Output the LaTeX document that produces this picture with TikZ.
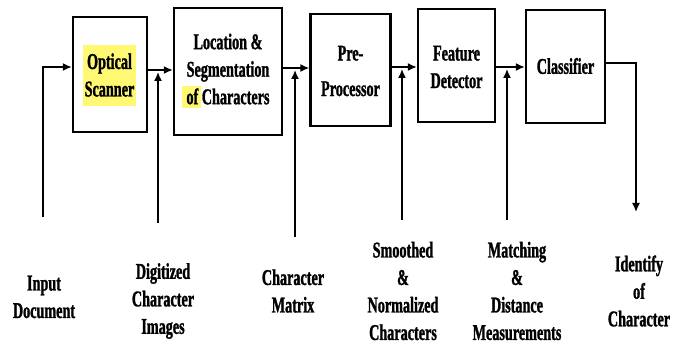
\documentclass[tikz,border=0pt]{standalone}
\usepackage{fontspec}
\setmainfont{Liberation Serif}[FakeStretch=0.63,BoldFeatures={FakeBold=1.2}]
\usetikzlibrary{arrows.meta}
\begin{document}
\begin{tikzpicture}[x=1pt,y=-1pt,
  box/.style={draw, line width=2.4pt, minimum width=#1, inner sep=0pt},
  txt/.style={align=center, font=\fontsize{22.5}{27.5}\selectfont\bfseries, inner sep=0pt},
  conn/.style={line width=1.5pt, -{Latex[length=9pt,width=8pt]}},
  hl/.style={fill=yellow!55, draw=none}]
\useasboundingbox (0,0) rectangle (685,347);
% boxes
\node[box=74pt, minimum height=115pt] (scan) at (110,74.5) {};
\node[box=108pt, minimum height=127pt] (loc) at (228,71.5) {};
\node[box=80pt, minimum height=112pt] (pre) at (350.5,70) {};
\node[box=77pt, minimum height=113pt] (feat) at (456.5,65.5) {};
\node[box=79pt, minimum height=113pt] (cls) at (565.5,66.5) {};
% highlights
\fill[hl] (83,45) rectangle (136,106);
\fill[hl] (182,86) rectangle (201,108);
% box texts
\node[txt] (tscan) at (109.5,75) {Optical\\Scanner};
\node[txt] (tloc) at (228,69) {Location \&\\Segmentation\\of Characters};
\node[txt] (tpre) at (350.5,71) {Pre-\\[8pt]Processor};
\node[txt] (tfeat) at (456.5,67) {Feature\\Detector};
\node[txt] (tcls) at (565.5,66) {Classifier};
% labels
\node[txt] (l1) at (44,297) {Input\\Document};
\node[txt] (l2) at (163,301) {Digitized\\Character\\Images};
\node[txt] (l3) at (293,291) {Character\\Matrix};
\node[txt] (l4) at (403,291) {Smoothed\\\&\\Normalized\\Characters};
\node[txt] (l5) at (517,291) {Matching\\\&\\Distance\\Measurements};
\node[txt] (l6) at (639,291) {Identify\\of\\Character};
% coordinates
\coordinate (c1) at (43,217);
\coordinate (c2) at (158,223);
\coordinate (c3) at (295,237);
\coordinate (c4) at (402,220);
\coordinate (c5) at (507,220);
\coordinate (c6) at (636,212);
% connectors
\draw[conn] (c1) |- (scan.west |- 0,67);
\draw[conn] (scan.east |- 0,70) -- (loc.west |- 0,70);
\draw[conn] (c2) -- (158,72);
\draw[conn] (loc.east |- 0,68) -- (pre.west |- 0,68);
\draw[conn] (c3) -- (295,70);
\draw[conn] (pre.east |- 0,67) -- (feat.west |- 0,67);
\draw[conn] (c4) -- (402,69);
\draw[conn] (feat.east |- 0,67) -- (cls.west |- 0,67);
\draw[conn] (c5) -- (507,69);
\draw[conn] (cls.east |- 0,63) -| (c6);
\end{tikzpicture}
\end{document}
